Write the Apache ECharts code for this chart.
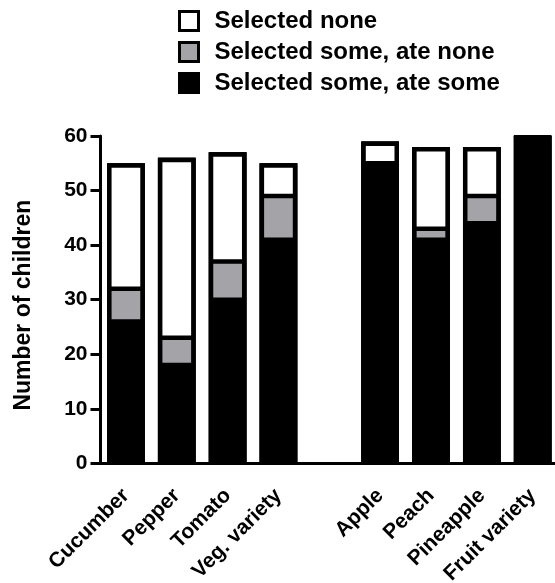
<!DOCTYPE html>
<html>
<head>
<meta charset="utf-8">
<script src="https://cdn.jsdelivr.net/npm/echarts@6/dist/echarts.min.js"></script>
<style>
html,body{margin:0;padding:0;background:#fff;}
#chart{width:555px;height:583px;}
</style>
</head>
<body>
<div id="chart"></div>
<script>
const categories = ['Cucumber', 'Pepper', 'Tomato', 'Veg. variety', '', 'Apple', 'Peach', 'Pineapple', 'Fruit variety'];
const selectedSomeAteSome = [26, 18, 30, 41, null, 55, 41, 44, 59];
const selectedSomeAteNone = [6, 5, 7, 8, null, 0, 2, 5, 1];
const selectedNone = [23, 33, 20, 6, null, 4, 15, 9, 0];
const yTicks = [0, 10, 20, 30, 40, 50, 60];

// whole-bar totals (sum of the three segments), used for the bar outline
const totals = categories.map((c, i) =>
  selectedSomeAteSome[i] == null ? null : selectedSomeAteSome[i] + selectedSomeAteNone[i] + selectedNone[i]);

const FONT = '"Liberation Sans", Arial, sans-serif';
const BW = 37.7;
const chart = echarts.init(document.getElementById('chart'), null, {renderer: 'canvas'});
const seg = {borderColor: '#000', borderWidth: 2.25};
chart.setOption({
  backgroundColor: '#fff',
  animation: false,
  legend: {
    orient: 'vertical',
    left: 178,
    top: 9,
    padding: 0,
    itemWidth: 19,
    itemHeight: 19,
    itemGap: 7,
    icon: 'rect',
    data: ['Selected none', 'Selected some, ate none', 'Selected some, ate some'],
    itemStyle: {borderColor: '#000', borderWidth: 3},
    textStyle: {fontFamily: FONT, fontSize: 24, fontWeight: 'bold', color: '#000', padding: [0, 0, 0, 11]}
  },
  grid: {left: 100.5, top: 136, width: 457.6, height: 327.3, containLabel: false, outerBoundsMode: 'none'},
  xAxis: {
    type: 'category',
    data: categories,
    axisLine: {lineStyle: {color: '#000', width: 3}},
    axisTick: {alignWithLabel: true, length: 10, interval: 0, lineStyle: {color: '#000', width: 3}},
    axisLabel: {interval: 0, rotate: 45, margin: 29, fontFamily: FONT, fontSize: 21, fontWeight: 'bold', color: '#000'}
  },
  yAxis: {
    type: 'value',
    min: yTicks[0],
    max: yTicks[yTicks.length - 1],
    interval: 10,
    name: 'Number of children',
    nameLocation: 'middle',
    nameGap: 65,
    nameTextStyle: {fontFamily: FONT, fontSize: 23, fontWeight: 'bold', color: '#000', padding: [0, 11, 0, 0]},
    axisLine: {show: true, lineStyle: {color: '#000', width: 3}},
    axisTick: {show: true, length: 10, lineStyle: {color: '#000', width: 3}},
    splitLine: {show: false},
    axisLabel: {margin: 13, fontFamily: FONT, fontSize: 21, fontWeight: 'bold', color: '#000'}
  },
  series: [
    {name: 'bar-back', type: 'bar', barWidth: BW, barGap: '-100%', data: totals, silent: true, z: 1,
     itemStyle: {color: '#000', borderWidth: 0}},
    {name: 'Selected some, ate some', type: 'bar', stack: 's', barWidth: BW, barGap: '-100%', data: selectedSomeAteSome, z: 2,
     itemStyle: {color: '#000', borderColor: '#000', borderWidth: 0}},
    {name: 'Selected some, ate none', type: 'bar', stack: 's', barWidth: BW, barGap: '-100%', data: selectedSomeAteNone, z: 2,
     itemStyle: Object.assign({color: '#a3a3a8'}, seg)},
    {name: 'Selected none', type: 'bar', stack: 's', barWidth: BW, barGap: '-100%', data: selectedNone, z: 2,
     itemStyle: Object.assign({color: '#fff'}, seg)},
    {name: 'bar-outline', type: 'bar', barWidth: BW, barGap: '-100%', data: totals, silent: true, z: 3,
     itemStyle: {color: 'rgba(0,0,0,0)', borderColor: '#000', borderWidth: 4.5}}
  ]
});
</script>
</body>
</html>
